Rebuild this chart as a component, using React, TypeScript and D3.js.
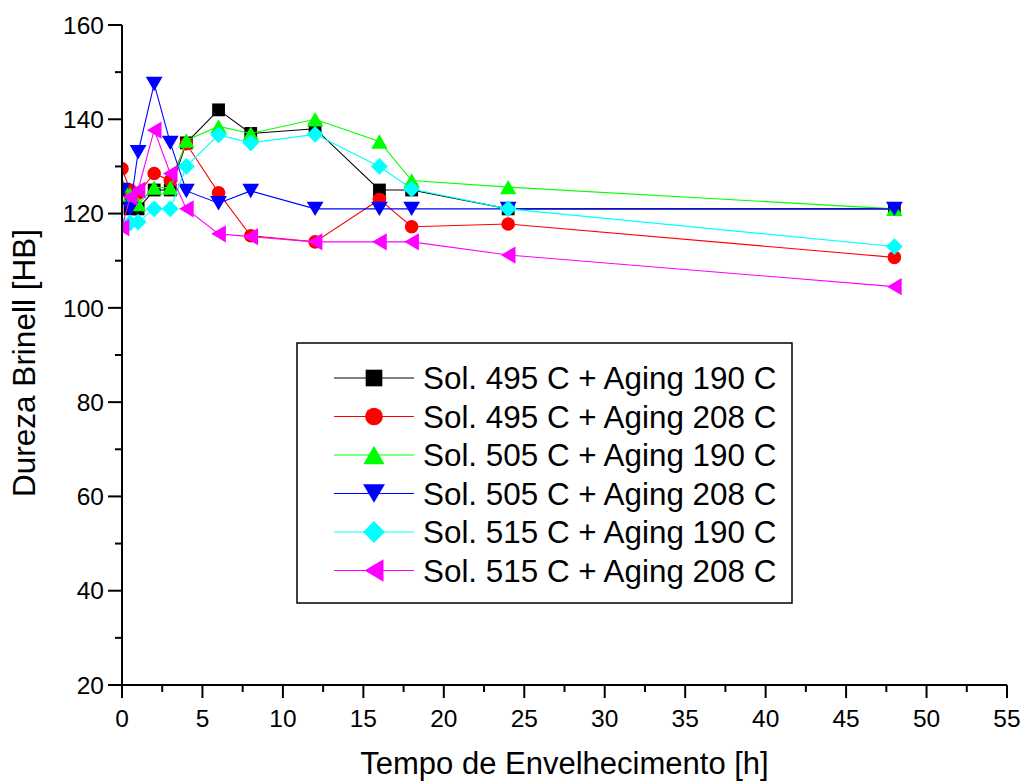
import React from "react";
import * as d3 from "d3";

const hours = [0, 0.5, 1, 2, 3, 4, 6, 8, 12, 16, 18, 24, 48];
const s495_190 = [125, 121, 121, 125, 125, 135, 142, 137, 138, 125, 125, 121, 121];
const s495_208 = [129.5, 125, 124.3, 128.5, 127, 134.8, 124.4, 115.3, 114, 123, 117.2, 117.8, 110.7];
const s505_190 = [126, 124, 122, 125.5, 125.5, 135.5, 138.5, 137, 140, 135.3, 127, 125.6, 121];
const s505_208 = [125, 121, 133, 147.5, 135, 124.8, 122.2, 124.8, 121, 121, 121, 121, 121];
const s515_190 = [117.5, 118, 118.2, 121, 121, 130, 136.7, 135, 136.8, 130, 125.2, 121, 113];
const s515_208 = [117, 123.5, 125, 137.7, 128.5, 121, 115.7, 115.1, 114, 114, 114, 111.2, 104.5];

const seriesNames = [
  "Sol. 495 C + Aging 190 C",
  "Sol. 495 C + Aging 208 C",
  "Sol. 505 C + Aging 190 C",
  "Sol. 505 C + Aging 208 C",
  "Sol. 515 C + Aging 190 C",
  "Sol. 515 C + Aging 208 C",
];
const seriesValues = [s495_190, s495_208, s505_190, s505_208, s515_190, s515_208];
const seriesColors = ["#000000", "#ff0000", "#00ff00", "#0000ff", "#00ffff", "#ff00ff"];
const seriesShapes = ["square", "circle", "up", "down", "diamond", "left"];

const xTicks = [0, 5, 10, 15, 20, 25, 30, 35, 40, 45, 50, 55];
const xMinor = [2.5, 7.5, 12.5, 17.5, 22.5, 27.5, 32.5, 37.5, 42.5, 47.5, 52.5];
const yTicks = [20, 40, 60, 80, 100, 120, 140, 160];
const yMinor = [30, 50, 70, 90, 110, 130, 150];

const FONT = "Arial, 'Liberation Sans', Helvetica, sans-serif";

function markerPath(shape: string, k: number): string {
  const p = d3.path();
  if (shape === "square") {
    const h = 6.4 * k;
    p.rect(-h, -h, 2 * h, 2 * h);
  } else if (shape === "circle") {
    p.arc(0, 0, 6.8 * k, 0, Math.PI * 2);
  } else if (shape === "up") {
    const w = 8.2 * k, h = 7.2 * k;
    p.moveTo(0, -h); p.lineTo(w, h); p.lineTo(-w, h); p.closePath();
  } else if (shape === "down") {
    const w = 8.4 * k, h = 7.2 * k;
    p.moveTo(-w, -h); p.lineTo(w, -h); p.lineTo(0, h); p.closePath();
  } else if (shape === "diamond") {
    const r = 8.4 * k;
    p.moveTo(0, -r); p.lineTo(r, 0); p.lineTo(0, r); p.lineTo(-r, 0); p.closePath();
  } else if (shape === "left") {
    const w = 7.3 * k, h = 8.6 * k;
    p.moveTo(-w, 0); p.lineTo(w, -h); p.lineTo(w, h); p.closePath();
  }
  return p.toString();
}

export default function App() {
  const x = d3.scaleLinear().domain([0, 55]).range([122, 1007]);
  const y = d3.scaleLinear().domain([20, 160]).range([685, 25]);
  const line = d3
    .line<[number, number]>()
    .x((d) => x(d[0]))
    .y((d) => y(d[1]));

  const legX = 297, legY = 343, legW = 495, legH = 260;
  const rowY0 = 378, rowDy = 38.5;

  return (
    <svg
      width={1023}
      height={782}
      style={{ position: "absolute", left: 0, top: 0, background: "#fff" }}
      fontFamily={FONT}
    >
      <defs>
        <clipPath id="plotClip">
          <rect x={x(0)} y={0} width={x(55) - x(0) + 20} height={y(20)} />
        </clipPath>
      </defs>
      <rect width={1023} height={782} fill="#fff" />

      <g clipPath="url(#plotClip)">
        {seriesValues.map((vals, i) => {
          const pts = hours.map((h, j) => [h, vals[j]] as [number, number]);
          return (
            <g key={i}>
              <path d={line(pts) || ""} fill="none" stroke={seriesColors[i]} strokeWidth={1.1} />
              {pts.map((p, j) => (
                <path
                  key={j}
                  d={markerPath(seriesShapes[i], 1)}
                  transform={`translate(${x(p[0])},${y(p[1])})`}
                  fill={seriesColors[i]}
                />
              ))}
            </g>
          );
        })}
      </g>

      {/* axes */}
      <line x1={x(0)} x2={x(55)} y1={y(20)} y2={y(20)} stroke="#000" strokeWidth={2} />
      <line x1={x(0)} x2={x(0)} y1={y(20) + 1} y2={y(160)} stroke="#000" strokeWidth={2} />
      {xTicks.map((t) => (
        <g key={"xt" + t}>
          <line x1={x(t)} x2={x(t)} y1={y(20)} y2={y(20) + 13} stroke="#000" strokeWidth={2} />
          <text x={x(t)} y={727} fontSize={24.5} textAnchor="middle" fill="#000">
            {t}
          </text>
        </g>
      ))}
      {xMinor.map((t) => (
        <line key={"xm" + t} x1={x(t)} x2={x(t)} y1={y(20)} y2={y(20) + 7} stroke="#000" strokeWidth={2} />
      ))}
      {yTicks.map((t) => (
        <g key={"yt" + t}>
          <line x1={x(0) - 14} x2={x(0)} y1={y(t)} y2={y(t)} stroke="#000" strokeWidth={2} />
          <text x={104} y={y(t) + 8.7} fontSize={24.5} textAnchor="end" fill="#000">
            {t}
          </text>
        </g>
      ))}
      {yMinor.map((t) => (
        <line key={"ym" + t} x1={x(0) - 7} x2={x(0)} y1={y(t)} y2={y(t)} stroke="#000" strokeWidth={2} />
      ))}

      <text x={(x(0) + x(55)) / 2} y={774} fontSize={31} textAnchor="middle" fill="#000">
        Tempo de Envelhecimento [h]
      </text>
      <text
        transform={`translate(35,${(y(20) + y(160)) / 2 + 8}) rotate(-90)`}
        fontSize={31.5}
        textAnchor="middle"
        fill="#000"
      >
        Dureza Brinell [HB]
      </text>

      {/* legend */}
      <rect x={legX} y={legY} width={legW} height={legH} fill="#fff" stroke="#000" strokeWidth={1.5} />
      {seriesNames.map((name, i) => {
        const ry = rowY0 + i * rowDy;
        return (
          <g key={"lg" + i}>
            <line x1={334} x2={414} y1={ry} y2={ry} stroke={seriesColors[i]} strokeWidth={1.2} />
            <path d={markerPath(seriesShapes[i], 1.3)} transform={`translate(374,${ry})`} fill={seriesColors[i]} />
            <text x={423} y={ry + 11} fontSize={31.4} fill="#000">
              {name}
            </text>
          </g>
        );
      })}
    </svg>
  );
}
